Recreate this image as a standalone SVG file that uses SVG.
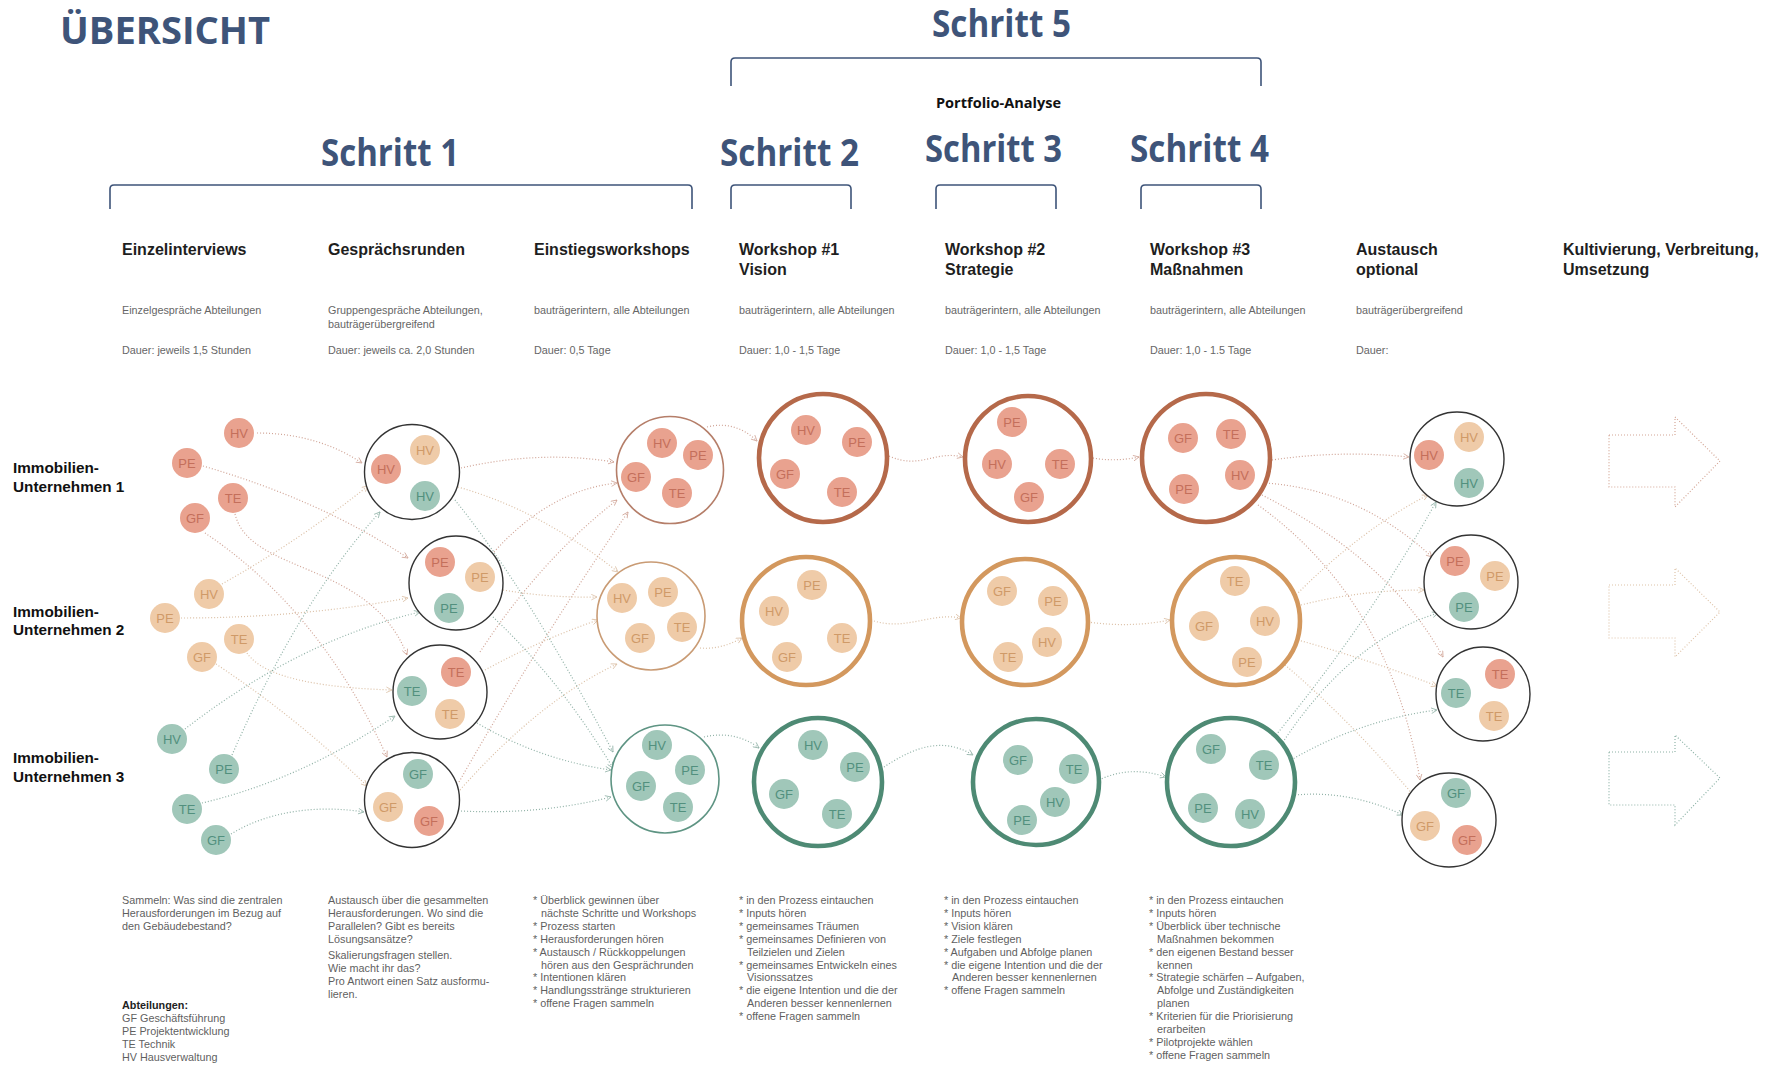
<svg xmlns="http://www.w3.org/2000/svg" width="1777" height="1065" viewBox="0 0 1777 1065">
<style>
  .h1{font-family:"Open Sans","Liberation Sans",sans-serif;font-weight:700;font-size:37px;fill:#3e5479}
  .pa{font-family:"Open Sans","Liberation Sans",sans-serif;font-weight:700;font-size:14.5px;fill:#111}
  .br{fill:none;stroke:#3e5479;stroke-width:1.6}
  .hd{font-family:"Liberation Sans",Arial,sans-serif;font-weight:700;font-size:16px;fill:#1e1e1e}
  .sub{font-family:"Liberation Sans",Arial,sans-serif;font-size:10.8px;fill:#666}
  .bd{font-family:"Liberation Sans",Arial,sans-serif;font-size:10.8px;fill:#5f5f5f}
  .bdb{font-family:"Liberation Sans",Arial,sans-serif;font-size:10.8px;font-weight:700;fill:#222}
  .row{font-family:"Liberation Sans",Arial,sans-serif;font-weight:700;font-size:15.3px;fill:#111}
  .m text{font-family:"Liberation Sans",Arial,sans-serif;font-size:13px;text-anchor:middle}
  .r circle{fill:#e9a28f}.r text{fill:#c46f5b}
  .b circle{fill:#efcba8}.b text{fill:#cf9a68}
  .t circle{fill:#a0c7b9}.t text{fill:#52907e}
  .ring{fill:#fff;stroke:#333;stroke-width:1.4}
  .er{fill:#fff;stroke:#b57e69;stroke-width:1.6}
  .eb{fill:#fff;stroke:#c99b74;stroke-width:1.6}
  .et{fill:#fff;stroke:#5e9483;stroke-width:1.6}
  .wr{fill:#fff;stroke:#b5694a;stroke-width:4.6}
  .wb{fill:#fff;stroke:#d3985e;stroke-width:4.6}
  .wt{fill:#fff;stroke:#4e8a74;stroke-width:4.6}
  .c{fill:none;stroke-width:1.2;stroke-dasharray:1 2;opacity:.85}
  .cr{stroke:#c99585;marker-end:url(#ar-r)}
  .cb{stroke:#d6b697;marker-end:url(#ar-b)}
  .ct{stroke:#7ea598;marker-end:url(#ar-t)}
  .ba{fill:none;stroke-width:1.2;stroke-dasharray:1 2}
</style>
<defs>
  <marker id="ar-r" viewBox="0 0 8 8" refX="7" refY="4" markerWidth="7" markerHeight="7" markerUnits="userSpaceOnUse" orient="auto"><path d="M0.5,0.8 L7,4 L0.5,7.2" fill="none" stroke="#c99585" stroke-width="0.9"/></marker>
  <marker id="ar-b" viewBox="0 0 8 8" refX="7" refY="4" markerWidth="7" markerHeight="7" markerUnits="userSpaceOnUse" orient="auto"><path d="M0.5,0.8 L7,4 L0.5,7.2" fill="none" stroke="#d6b697" stroke-width="0.9"/></marker>
  <marker id="ar-t" viewBox="0 0 8 8" refX="7" refY="4" markerWidth="7" markerHeight="7" markerUnits="userSpaceOnUse" orient="auto"><path d="M0.5,0.8 L7,4 L0.5,7.2" fill="none" stroke="#7ea598" stroke-width="0.9"/></marker>
</defs>
<rect width="1777" height="1065" fill="#fff"/>

<!-- titles and step brackets -->
<g id="titles">
  <text class="h1" x="60" y="44" textLength="210" lengthAdjust="spacingAndGlyphs">ÜBERSICHT</text>
  <text class="h1" x="932" y="37" textLength="139" lengthAdjust="spacingAndGlyphs">Schritt 5</text>
  <text class="pa" x="936" y="108" textLength="125" lengthAdjust="spacingAndGlyphs">Portfolio-Analyse</text>
  <text class="h1" x="321" y="166" textLength="138" lengthAdjust="spacingAndGlyphs">Schritt 1</text>
  <text class="h1" x="720" y="166" textLength="139" lengthAdjust="spacingAndGlyphs">Schritt 2</text>
  <text class="h1" x="925" y="162" textLength="137" lengthAdjust="spacingAndGlyphs">Schritt 3</text>
  <text class="h1" x="1130" y="162" textLength="139" lengthAdjust="spacingAndGlyphs">Schritt 4</text>
  <path class="br" d="M731,86 V62 Q731,58 735,58 H1257 Q1261,58 1261,62 V86"/>
  <path class="br" d="M110,209 V189 Q110,185 114,185 H688 Q692,185 692,189 V209"/>
  <path class="br" d="M731,209 V189 Q731,185 735,185 H847 Q851,185 851,189 V209"/>
  <path class="br" d="M936,209 V189 Q936,185 940,185 H1052 Q1056,185 1056,189 V209"/>
  <path class="br" d="M1141,209 V189 Q1141,185 1145,185 H1257 Q1261,185 1261,189 V209"/>
</g>

<!-- column headers -->
<g id="headers">
  <text class="hd" x="122" y="255">Einzelinterviews</text>
  <text class="hd" x="328" y="255">Gesprächsrunden</text>
  <text class="hd" x="534" y="255">Einstiegsworkshops</text>
  <text class="hd" x="739" y="255">Workshop #1</text><text class="hd" x="739" y="275">Vision</text>
  <text class="hd" x="945" y="255">Workshop #2</text><text class="hd" x="945" y="275">Strategie</text>
  <text class="hd" x="1150" y="255">Workshop #3</text><text class="hd" x="1150" y="275">Maßnahmen</text>
  <text class="hd" x="1356" y="255">Austausch</text><text class="hd" x="1356" y="275">optional</text>
  <text class="hd" x="1563" y="255">Kultivierung, Verbreitung,</text><text class="hd" x="1563" y="275">Umsetzung</text>

  <text class="sub" x="122" y="314">Einzelgespräche Abteilungen</text>
  <text class="sub" x="328" y="314">Gruppengespräche Abteilungen,</text><text class="sub" x="328" y="328">bauträgerübergreifend</text>
  <text class="sub" x="534" y="314">bauträgerintern, alle Abteilungen</text>
  <text class="sub" x="739" y="314">bauträgerintern, alle Abteilungen</text>
  <text class="sub" x="945" y="314">bauträgerintern, alle Abteilungen</text>
  <text class="sub" x="1150" y="314">bauträgerintern, alle Abteilungen</text>
  <text class="sub" x="1356" y="314">bauträgerübergreifend</text>

  <text class="sub" x="122" y="354">Dauer: jeweils 1,5 Stunden</text>
  <text class="sub" x="328" y="354">Dauer: jeweils ca. 2,0 Stunden</text>
  <text class="sub" x="534" y="354">Dauer: 0,5 Tage</text>
  <text class="sub" x="739" y="354">Dauer: 1,0 - 1,5 Tage</text>
  <text class="sub" x="945" y="354">Dauer: 1,0 - 1,5 Tage</text>
  <text class="sub" x="1150" y="354">Dauer: 1,0 - 1.5 Tage</text>
  <text class="sub" x="1356" y="354">Dauer:</text>
</g>

<!-- row labels -->
<g id="rows">
  <text class="row" x="13" y="473">Immobilien-</text><text class="row" x="13" y="492">Unternehmen 1</text>
  <text class="row" x="13" y="617">Immobilien-</text><text class="row" x="13" y="635">Unternehmen 2</text>
  <text class="row" x="13" y="763">Immobilien-</text><text class="row" x="13" y="782">Unternehmen 3</text>
</g>

<!-- dotted connectors -->
<g id="connectors">
  <!-- individual interviews to discussion rounds -->
  <path class="c cr" d="M257,433 C300,433 335,445 362,463"/>
  <path class="c cr" d="M203,466 Q320,500 408,558"/>
  <path class="c cr" d="M235,514 C250,575 370,560 407,655"/>
  <path class="c cr" d="M205,533 Q320,610 387,757"/>
  <path class="c cb" d="M222,584 Q300,540 368,486"/>
  <path class="c cb" d="M181,618 Q300,618 408,598"/>
  <path class="c cb" d="M247,653 C265,680 330,688 392,690"/>
  <path class="c cb" d="M216,664 Q300,720 367,786"/>
  <path class="c ct" d="M185,729 Q300,640 420,612"/>
  <path class="c ct" d="M232,755 Q300,600 380,512"/>
  <path class="c ct" d="M202,803 Q300,780 395,716"/>
  <path class="c ct" d="M231,834 C270,810 320,805 364,812"/>
  <!-- discussion rounds to kick-off workshops -->
  <path class="c cr" d="M461,468 Q540,450 614,462"/>
  <path class="c cr" d="M494,552 Q550,490 617,483"/>
  <path class="c cr" d="M480,652 Q540,560 617,500"/>
  <path class="c cr" d="M459,782 Q540,640 628,512"/>
  <path class="c cb" d="M458,487 Q540,510 618,572"/>
  <path class="c cb" d="M503,590 Q550,598 597,597"/>
  <path class="c cb" d="M485,670 Q540,640 598,620"/>
  <path class="c cb" d="M460,790 Q540,700 617,664"/>
  <path class="c ct" d="M455,500 Q526,588 613,752"/>
  <path class="c ct" d="M493,617 Q560,680 613,768"/>
  <path class="c ct" d="M477,723 Q540,760 611,770"/>
  <path class="c ct" d="M461,811 Q540,815 611,797"/>
  <!-- kick-off to workshop 1 -->
  <path class="c cr" d="M707,427 Q735,420 757,441"/>
  <path class="c cb" d="M700,648 Q720,650 742,638"/>
  <path class="c ct" d="M704,737 Q735,730 759,748"/>
  <!-- workshop 1 to workshop 2 -->
  <path class="c cr" d="M889,456 C920,470 935,450 963,457"/>
  <path class="c cb" d="M871,620 C905,632 930,612 961,618"/>
  <path class="c ct" d="M884,767 C910,750 940,735 973,755"/>
  <!-- workshop 2 to workshop 3 -->
  <path class="c cr" d="M1093,458 Q1115,462 1139,457"/>
  <path class="c cb" d="M1088,622 Q1130,628 1170,620"/>
  <path class="c ct" d="M1099,780 Q1130,765 1166,777"/>
  <!-- workshop 3 to exchange -->
  <path class="c cr" d="M1272,460 Q1340,450 1409,457"/>
  <path class="c cr" d="M1266,483 Q1360,490 1432,557"/>
  <path class="c cr" d="M1262,495 Q1390,560 1443,657"/>
  <path class="c cr" d="M1258,505 Q1390,600 1420,780"/>
  <path class="c cb" d="M1294,597 Q1360,530 1428,495"/>
  <path class="c cb" d="M1301,605 Q1360,590 1424,590"/>
  <path class="c cb" d="M1298,640 Q1370,660 1437,686"/>
  <path class="c cb" d="M1285,665 Q1350,720 1414,796"/>
  <path class="c ct" d="M1276,735 Q1370,620 1436,502"/>
  <path class="c ct" d="M1281,745 Q1350,640 1438,613"/>
  <path class="c ct" d="M1291,760 Q1360,720 1437,710"/>
  <path class="c ct" d="M1295,795 Q1350,790 1403,815"/>
</g>

<!-- individual interview nodes -->
<g id="n-r-hv" class="m r" transform="translate(239,433)"><circle r="15"/><text y="4.5">HV</text></g>
<g id="n-r-pe" class="m r" transform="translate(187,463)"><circle r="15"/><text y="4.5">PE</text></g>
<g id="n-r-te" class="m r" transform="translate(233,498)"><circle r="15"/><text y="4.5">TE</text></g>
<g id="n-r-gf" class="m r" transform="translate(195,518)"><circle r="15"/><text y="4.5">GF</text></g>
<g id="n-b-hv" class="m b" transform="translate(209,594)"><circle r="15"/><text y="4.5">HV</text></g>
<g id="n-b-pe" class="m b" transform="translate(165,618)"><circle r="15"/><text y="4.5">PE</text></g>
<g id="n-b-te" class="m b" transform="translate(239,639)"><circle r="15"/><text y="4.5">TE</text></g>
<g id="n-b-gf" class="m b" transform="translate(202,657)"><circle r="15"/><text y="4.5">GF</text></g>
<g id="n-t-hv" class="m t" transform="translate(172,739)"><circle r="15"/><text y="4.5">HV</text></g>
<g id="n-t-pe" class="m t" transform="translate(224,769)"><circle r="15"/><text y="4.5">PE</text></g>
<g id="n-t-te" class="m t" transform="translate(187,809)"><circle r="15"/><text y="4.5">TE</text></g>
<g id="n-t-gf" class="m t" transform="translate(216,840)"><circle r="15"/><text y="4.5">GF</text></g>

<!-- discussion rounds (per department) -->
<g id="g-hv"><circle class="ring" cx="412" cy="472" r="47.5"/>
  <g class="m r" transform="translate(386,469)"><circle r="15"/><text y="4.5">HV</text></g>
  <g class="m b" transform="translate(425,450)"><circle r="15"/><text y="4.5">HV</text></g>
  <g class="m t" transform="translate(425,496)"><circle r="15"/><text y="4.5">HV</text></g></g>
<g id="g-pe"><circle class="ring" cx="456" cy="583" r="47"/>
  <g class="m r" transform="translate(440,562)"><circle r="15"/><text y="4.5">PE</text></g>
  <g class="m b" transform="translate(480,577)"><circle r="15"/><text y="4.5">PE</text></g>
  <g class="m t" transform="translate(449,608)"><circle r="15"/><text y="4.5">PE</text></g></g>
<g id="g-te"><circle class="ring" cx="440" cy="692" r="47"/>
  <g class="m r" transform="translate(456,672)"><circle r="15"/><text y="4.5">TE</text></g>
  <g class="m t" transform="translate(412,691)"><circle r="15"/><text y="4.5">TE</text></g>
  <g class="m b" transform="translate(450,714)"><circle r="15"/><text y="4.5">TE</text></g></g>
<g id="g-gf"><circle class="ring" cx="412" cy="800" r="47.5"/>
  <g class="m t" transform="translate(418,774)"><circle r="15"/><text y="4.5">GF</text></g>
  <g class="m b" transform="translate(388,807)"><circle r="15"/><text y="4.5">GF</text></g>
  <g class="m r" transform="translate(429,821)"><circle r="15"/><text y="4.5">GF</text></g></g>

<!-- kick-off workshops -->
<g id="e-1"><circle class="er" cx="670" cy="470" r="53.5"/>
  <g class="m r" transform="translate(662,443)"><circle r="15"/><text y="4.5">HV</text></g>
  <g class="m r" transform="translate(698,455)"><circle r="15"/><text y="4.5">PE</text></g>
  <g class="m r" transform="translate(636,477)"><circle r="15"/><text y="4.5">GF</text></g>
  <g class="m r" transform="translate(677,493)"><circle r="15"/><text y="4.5">TE</text></g></g>
<g id="e-2"><circle class="eb" cx="651" cy="616" r="54"/>
  <g class="m b" transform="translate(622,598)"><circle r="15"/><text y="4.5">HV</text></g>
  <g class="m b" transform="translate(663,592)"><circle r="15"/><text y="4.5">PE</text></g>
  <g class="m b" transform="translate(640,638)"><circle r="15"/><text y="4.5">GF</text></g>
  <g class="m b" transform="translate(682,627)"><circle r="15"/><text y="4.5">TE</text></g></g>
<g id="e-3"><circle class="et" cx="665" cy="779" r="54"/>
  <g class="m t" transform="translate(657,745)"><circle r="15"/><text y="4.5">HV</text></g>
  <g class="m t" transform="translate(690,770)"><circle r="15"/><text y="4.5">PE</text></g>
  <g class="m t" transform="translate(641,786)"><circle r="15"/><text y="4.5">GF</text></g>
  <g class="m t" transform="translate(678,807)"><circle r="15"/><text y="4.5">TE</text></g></g>

<!-- workshop 1 -->
<g id="w1-1"><circle class="wr" cx="823" cy="458" r="64"/>
  <g class="m r" transform="translate(806,430)"><circle r="15"/><text y="4.5">HV</text></g>
  <g class="m r" transform="translate(857,442)"><circle r="15"/><text y="4.5">PE</text></g>
  <g class="m r" transform="translate(785,474)"><circle r="15"/><text y="4.5">GF</text></g>
  <g class="m r" transform="translate(842,492)"><circle r="15"/><text y="4.5">TE</text></g></g>
<g id="w1-2"><circle class="wb" cx="806" cy="621" r="64"/>
  <g class="m b" transform="translate(812,585)"><circle r="15"/><text y="4.5">PE</text></g>
  <g class="m b" transform="translate(774,611)"><circle r="15"/><text y="4.5">HV</text></g>
  <g class="m b" transform="translate(842,638)"><circle r="15"/><text y="4.5">TE</text></g>
  <g class="m b" transform="translate(787,657)"><circle r="15"/><text y="4.5">GF</text></g></g>
<g id="w1-3"><circle class="wt" cx="818" cy="782" r="64"/>
  <g class="m t" transform="translate(813,745)"><circle r="15"/><text y="4.5">HV</text></g>
  <g class="m t" transform="translate(855,767)"><circle r="15"/><text y="4.5">PE</text></g>
  <g class="m t" transform="translate(784,794)"><circle r="15"/><text y="4.5">GF</text></g>
  <g class="m t" transform="translate(837,814)"><circle r="15"/><text y="4.5">TE</text></g></g>

<!-- workshop 2 -->
<g id="w2-1"><circle class="wr" cx="1028" cy="459" r="63"/>
  <g class="m r" transform="translate(1012,422)"><circle r="15"/><text y="4.5">PE</text></g>
  <g class="m r" transform="translate(997,464)"><circle r="15"/><text y="4.5">HV</text></g>
  <g class="m r" transform="translate(1060,464)"><circle r="15"/><text y="4.5">TE</text></g>
  <g class="m r" transform="translate(1029,497)"><circle r="15"/><text y="4.5">GF</text></g></g>
<g id="w2-2"><circle class="wb" cx="1025" cy="622" r="63"/>
  <g class="m b" transform="translate(1002,591)"><circle r="15"/><text y="4.5">GF</text></g>
  <g class="m b" transform="translate(1053,601)"><circle r="15"/><text y="4.5">PE</text></g>
  <g class="m b" transform="translate(1047,642)"><circle r="15"/><text y="4.5">HV</text></g>
  <g class="m b" transform="translate(1008,657)"><circle r="15"/><text y="4.5">TE</text></g></g>
<g id="w2-3"><circle class="wt" cx="1036" cy="782" r="63"/>
  <g class="m t" transform="translate(1018,760)"><circle r="15"/><text y="4.5">GF</text></g>
  <g class="m t" transform="translate(1074,769)"><circle r="15"/><text y="4.5">TE</text></g>
  <g class="m t" transform="translate(1055,802)"><circle r="15"/><text y="4.5">HV</text></g>
  <g class="m t" transform="translate(1022,820)"><circle r="15"/><text y="4.5">PE</text></g></g>

<!-- workshop 3 -->
<g id="w3-1"><circle class="wr" cx="1206" cy="458" r="64"/>
  <g class="m r" transform="translate(1183,438)"><circle r="15"/><text y="4.5">GF</text></g>
  <g class="m r" transform="translate(1231,434)"><circle r="15"/><text y="4.5">TE</text></g>
  <g class="m r" transform="translate(1240,475)"><circle r="15"/><text y="4.5">HV</text></g>
  <g class="m r" transform="translate(1184,489)"><circle r="15"/><text y="4.5">PE</text></g></g>
<g id="w3-2"><circle class="wb" cx="1236" cy="621" r="64"/>
  <g class="m b" transform="translate(1235,581)"><circle r="15"/><text y="4.5">TE</text></g>
  <g class="m b" transform="translate(1204,626)"><circle r="15"/><text y="4.5">GF</text></g>
  <g class="m b" transform="translate(1265,621)"><circle r="15"/><text y="4.5">HV</text></g>
  <g class="m b" transform="translate(1247,662)"><circle r="15"/><text y="4.5">PE</text></g></g>
<g id="w3-3"><circle class="wt" cx="1231" cy="782" r="64"/>
  <g class="m t" transform="translate(1211,749)"><circle r="15"/><text y="4.5">GF</text></g>
  <g class="m t" transform="translate(1264,765)"><circle r="15"/><text y="4.5">TE</text></g>
  <g class="m t" transform="translate(1203,808)"><circle r="15"/><text y="4.5">PE</text></g>
  <g class="m t" transform="translate(1250,814)"><circle r="15"/><text y="4.5">HV</text></g></g>

<!-- cross-company exchange (per department) -->
<g id="x-hv"><circle class="ring" cx="1457" cy="459" r="47"/>
  <g class="m r" transform="translate(1429,455)"><circle r="15"/><text y="4.5">HV</text></g>
  <g class="m b" transform="translate(1469,437)"><circle r="15"/><text y="4.5">HV</text></g>
  <g class="m t" transform="translate(1469,483)"><circle r="15"/><text y="4.5">HV</text></g></g>
<g id="x-pe"><circle class="ring" cx="1471" cy="582" r="47"/>
  <g class="m r" transform="translate(1455,561)"><circle r="15"/><text y="4.5">PE</text></g>
  <g class="m b" transform="translate(1495,576)"><circle r="15"/><text y="4.5">PE</text></g>
  <g class="m t" transform="translate(1464,607)"><circle r="15"/><text y="4.5">PE</text></g></g>
<g id="x-te"><circle class="ring" cx="1483" cy="694" r="47"/>
  <g class="m r" transform="translate(1500,674)"><circle r="15"/><text y="4.5">TE</text></g>
  <g class="m t" transform="translate(1456,693)"><circle r="15"/><text y="4.5">TE</text></g>
  <g class="m b" transform="translate(1494,716)"><circle r="15"/><text y="4.5">TE</text></g></g>
<g id="x-gf"><circle class="ring" cx="1449" cy="820" r="47"/>
  <g class="m t" transform="translate(1456,793)"><circle r="15"/><text y="4.5">GF</text></g>
  <g class="m b" transform="translate(1425,826)"><circle r="15"/><text y="4.5">GF</text></g>
  <g class="m r" transform="translate(1467,840)"><circle r="15"/><text y="4.5">GF</text></g></g>

<!-- outlook arrows -->
<g id="outlook">
  <path class="ba" stroke="#d3a595" d="M1609,435 H1675 V417 L1720,461 L1675,507 V487 H1609 Z"/>
  <path class="ba" stroke="#dec3a8" d="M1609,585 H1675 V568 L1720,612 L1675,657 V638 H1609 Z"/>
  <path class="ba" stroke="#8db2a6" d="M1609,752 H1675 V735 L1720,778 L1675,825 V805 H1609 Z"/>
</g>

<!-- descriptions -->
<g id="notes">
  <text class="bd" x="122" y="904">Sammeln: Was sind die zentralen</text>
  <text class="bd" x="122" y="917">Herausforderungen im Bezug auf</text>
  <text class="bd" x="122" y="930">den Gebäudebestand?</text>
  <text class="bdb" x="122" y="1009">Abteilungen:</text>
  <text class="bd" x="122" y="1022">GF Geschäftsführung</text>
  <text class="bd" x="122" y="1035">PE Projektentwicklung</text>
  <text class="bd" x="122" y="1048">TE Technik</text>
  <text class="bd" x="122" y="1061">HV Hausverwaltung</text>

  <text class="bd" x="328" y="904">Austausch über die gesammelten</text>
  <text class="bd" x="328" y="917">Herausforderungen. Wo sind die</text>
  <text class="bd" x="328" y="930">Parallelen? Gibt es bereits</text>
  <text class="bd" x="328" y="943">Lösungsansätze?</text>
  <text class="bd" x="328" y="959">Skalierungsfragen stellen.</text>
  <text class="bd" x="328" y="972">Wie macht ihr das?</text>
  <text class="bd" x="328" y="985">Pro Antwort einen Satz ausformu-</text>
  <text class="bd" x="328" y="998">lieren.</text>

  <text class="bd" x="533" y="904">* Überblick gewinnen über</text>
  <text class="bd" x="541" y="917">nächste Schritte und Workshops</text>
  <text class="bd" x="533" y="930">* Prozess starten</text>
  <text class="bd" x="533" y="943">* Herausforderungen hören</text>
  <text class="bd" x="533" y="956">* Austausch / Rückkoppelungen</text>
  <text class="bd" x="541" y="969">hören aus den Gesprächrunden</text>
  <text class="bd" x="533" y="981">* Intentionen klären</text>
  <text class="bd" x="533" y="994">* Handlungsstränge strukturieren</text>
  <text class="bd" x="533" y="1007">* offene Fragen sammeln</text>

  <text class="bd" x="739" y="904">* in den Prozess eintauchen</text>
  <text class="bd" x="739" y="917">* Inputs hören</text>
  <text class="bd" x="739" y="930">* gemeinsames Träumen</text>
  <text class="bd" x="739" y="943">* gemeinsames Definieren von</text>
  <text class="bd" x="747" y="956">Teilzielen und Zielen</text>
  <text class="bd" x="739" y="969">* gemeinsames Entwickeln eines</text>
  <text class="bd" x="747" y="981">Visionssatzes</text>
  <text class="bd" x="739" y="994">* die eigene Intention und die der</text>
  <text class="bd" x="747" y="1007">Anderen besser kennenlernen</text>
  <text class="bd" x="739" y="1020">* offene Fragen sammeln</text>

  <text class="bd" x="944" y="904">* in den Prozess eintauchen</text>
  <text class="bd" x="944" y="917">* Inputs hören</text>
  <text class="bd" x="944" y="930">* Vision klären</text>
  <text class="bd" x="944" y="943">* Ziele festlegen</text>
  <text class="bd" x="944" y="956">* Aufgaben und Abfolge planen</text>
  <text class="bd" x="944" y="969">* die eigene Intention und die der</text>
  <text class="bd" x="952" y="981">Anderen besser kennenlernen</text>
  <text class="bd" x="944" y="994">* offene Fragen sammeln</text>

  <text class="bd" x="1149" y="904">* in den Prozess eintauchen</text>
  <text class="bd" x="1149" y="917">* Inputs hören</text>
  <text class="bd" x="1149" y="930">* Überblick über technische</text>
  <text class="bd" x="1157" y="943">Maßnahmen bekommen</text>
  <text class="bd" x="1149" y="956">* den eigenen Bestand besser</text>
  <text class="bd" x="1157" y="969">kennen</text>
  <text class="bd" x="1149" y="981">* Strategie schärfen – Aufgaben,</text>
  <text class="bd" x="1157" y="994">Abfolge und Zuständigkeiten</text>
  <text class="bd" x="1157" y="1007">planen</text>
  <text class="bd" x="1149" y="1020">* Kriterien für die Priorisierung</text>
  <text class="bd" x="1157" y="1033">erarbeiten</text>
  <text class="bd" x="1149" y="1046">* Pilotprojekte wählen</text>
  <text class="bd" x="1149" y="1059">* offene Fragen sammeln</text>
</g>
</svg>
